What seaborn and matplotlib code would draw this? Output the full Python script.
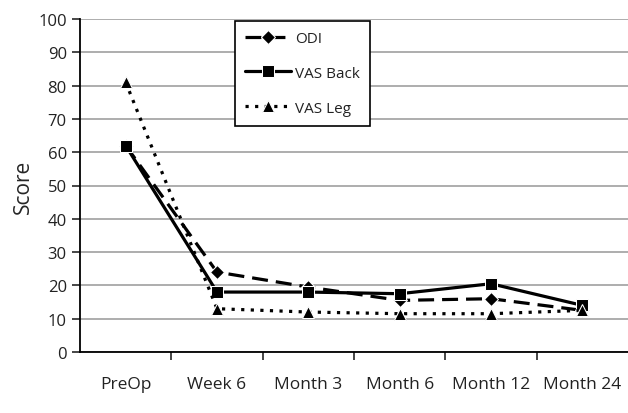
import pandas as pd
import seaborn as sns
import matplotlib.pyplot as plt

# Valores
timepoints = ['PreOp', 'Week 6', 'Month 3', 'Month 6', 'Month 12', 'Month 24']
odi = [62, 24, 19.5, 15.5, 16, 12.5]
vas_back = [62, 18, 18, 17.5, 20.5, 14]
vas_leg = [81, 13, 12, 11.5, 11.5, 12.5]
y_ticks = list(range(0, 101, 10))

df = pd.DataFrame({'time': timepoints, 'ODI': odi, 'VAS Back': vas_back, 'VAS Leg': vas_leg})

sns.set_style('white')
plt.rcParams['font.family'] = ['Open Sans', 'DejaVu Sans']
plt.rcParams['text.color'] = '#222222'

fig = plt.figure(figsize=(6.28, 4.14), dpi=100)
ax = fig.add_axes([80 / 628, 61 / 414, 548 / 628, 333 / 414])

sns.lineplot(data=df, x='time', y='ODI', ax=ax, color='black', lw=2.3,
             marker='D', markersize=7, label='ODI', sort=False)
ax.lines[-1].set_dashes((5, 2.5))
sns.lineplot(data=df, x='time', y='VAS Back', ax=ax, color='black', lw=2.3,
             marker='s', markersize=9, label='VAS Back', sort=False)
sns.lineplot(data=df, x='time', y='VAS Leg', ax=ax, color='black', lw=2.3,
             marker='^', markersize=9, label='VAS Leg', sort=False)
ax.lines[-1].set_linestyle((0, (1, 2)))

ax.set_xlim(-0.5, 5.5)
ax.set_ylim(0, 100)
ax.set_yticks(y_ticks)
ax.yaxis.grid(True, color='#a0a0a0', lw=1.2)
ax.set_axisbelow(True)
ax.set_xticks([i + 0.5 for i in range(5)], minor=False)
ax.set_xticklabels([])
ax.set_xticks(range(6), minor=True)
ax.set_xticklabels(timepoints, minor=True, fontsize=12.5, color='#222222')
ax.tick_params(axis='x', which='minor', length=0, pad=17)
ax.tick_params(axis='x', which='major', length=6, width=1.2, direction='out', bottom=True)
ax.tick_params(axis='y', length=6, width=1.2, direction='out', left=True,
               labelsize=12, labelcolor='#222222')
ax.set_xlabel('')
ax.set_ylabel('Score', fontsize=15, labelpad=3)

for s in ['top', 'right']:
    ax.spines[s].set_visible(False)
for s in ['left', 'bottom']:
    ax.spines[s].set_color('black')
    ax.spines[s].set_linewidth(1.3)

leg = ax.legend(loc='upper left', bbox_to_anchor=(0.283, 0.994), fancybox=False,
                edgecolor='black', framealpha=1, fontsize=11, handlelength=3,
                handletextpad=0.3, labelspacing=1.3, borderpad=0.65, borderaxespad=0)
leg.get_frame().set_linewidth(1.2)

plt.savefig('out.png', dpi=100)
